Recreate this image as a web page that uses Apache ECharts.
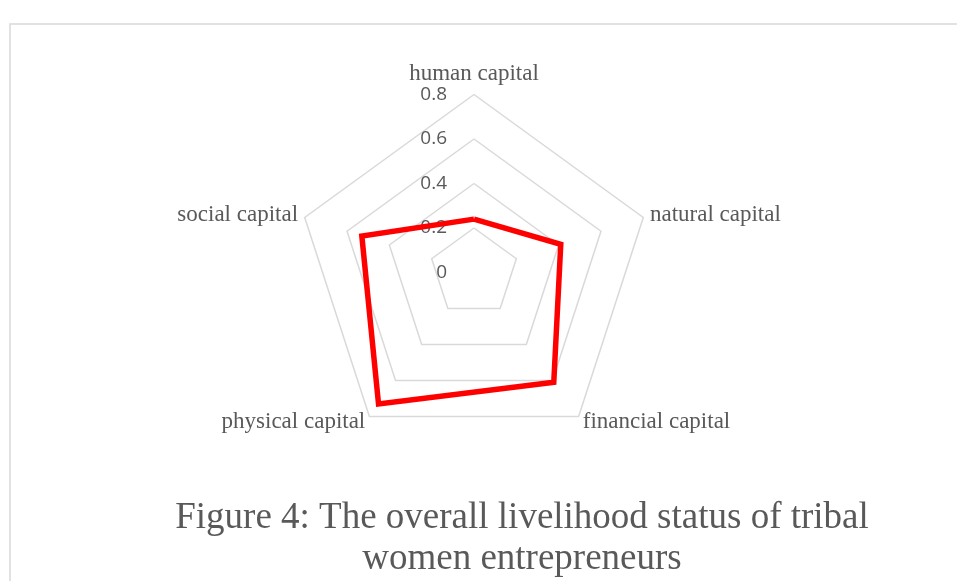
<!DOCTYPE html>
<html>
<head>
<meta charset="utf-8">
<script src="https://cdn.jsdelivr.net/npm/echarts@6/dist/echarts.min.js"></script>
<style>
html,body{margin:0;padding:0;background:#fff;}
#chart{width:957px;height:581px;}
</style>
</head>
<body>
<div id="chart"></div>
<script>
// Categories in the reference's (clockwise from top) order
var categories = ['human capital', 'natural capital', 'financial capital', 'physical capital', 'social capital'];
// Overall livelihood status values
var values = [0.24, 0.41, 0.61, 0.73, 0.53];
// Axis range / tick labels
var axisMin = 0;
var axisMax = 0.8;
var axisInterval = 0.2;
var tickLabels = ['0', '0.2', '0.4', '0.6', '0.8'];
var titleText = 'Figure 4: The overall livelihood status of tribal\nwomen entrepreneurs';

// ECharts places radar indicators counter-clockwise; reorder to get clockwise layout
var order = [0];
for (var i = categories.length - 1; i >= 1; i--) order.push(i);

var indicators = order.map(function (idx, k) {
  var ind = { name: categories[idx], min: axisMin, max: axisMax };
  if (k === 0) {
    ind.axisLabel = {
      show: true,
      color: '#595959',
      fontFamily: 'Open Sans',
      fontSize: 19,
      margin: 27,
      padding: [5, 0, 0, 0],
      formatter: function (v) {
        var n = Math.round((v - axisMin) / axisInterval);
        return tickLabels[n] !== undefined ? tickLabels[n] : String(v);
      }
    };
  }
  return ind;
});
var seriesValues = order.map(function (idx) { return values[idx]; });

var chart = echarts.init(document.getElementById('chart'), null, { renderer: 'canvas' });
chart.setOption({
  animation: false,
  backgroundColor: '#ffffff',
  title: {
    text: titleText,
    left: 517,
    top: 493,
    textAlign: 'center',
    textStyle: {
      fontFamily: 'Liberation Serif',
      fontSize: 37,
      fontWeight: 'normal',
      color: '#595959',
      lineHeight: 41
    }
  },
  graphic: [{
    type: 'rect',
    silent: true,
    shape: { x: 10, y: 24, width: 1200, height: 1200 },
    style: { fill: 'none', stroke: '#d9d9d9', lineWidth: 1.5 }
  }],
  radar: {
    center: [474, 272.5],
    radius: 178,
    startAngle: 90,
    shape: 'polygon',
    splitNumber: 4,
    nameGap: 7,
    axisName: {
      color: '#595959',
      fontFamily: 'Liberation Serif',
      fontSize: 23
    },
    axisLine: { show: false },
    axisTick: { show: false },
    axisLabel: { show: false },
    splitArea: { show: false },
    splitLine: { lineStyle: { color: '#d9d9d9', width: 1.5 } },
    indicator: indicators
  },
  series: [{
    type: 'radar',
    symbol: 'none',
    lineStyle: { color: '#ff0000', width: 5.5, join: 'miter' },
    data: [{ value: seriesValues, name: 'Overall' }]
  }]
});
</script>
</body>
</html>
